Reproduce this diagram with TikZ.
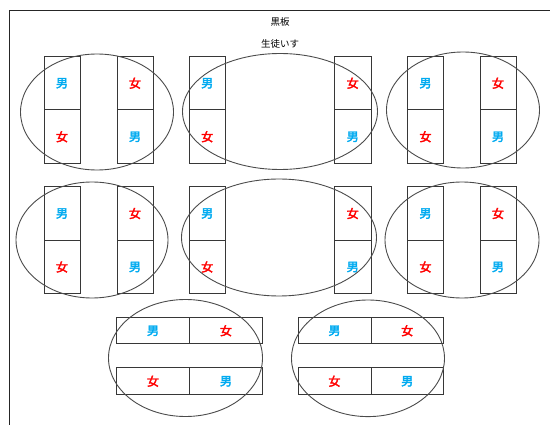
\documentclass[tikz,border=0pt]{standalone}
\usepackage{fontspec}
\newfontfamily\cjk[AutoFakeBold=3]{Noto Sans CJK JP}
\usetikzlibrary{shapes.geometric}
\definecolor{boyc}{RGB}{0,170,240}
\definecolor{girlc}{RGB}{255,0,0}
\definecolor{linec}{RGB}{55,55,55}
\newcommand{\boytext}{男}
\newcommand{\girltext}{女}
\newcommand{\lbl}[1]{\csname #1text\endcsname}
\begin{document}
\begin{tikzpicture}[x=1pt,y=-1pt,
  cell/.style={draw=linec,line width=1pt,inner sep=0pt,font=\cjk\fontsize{12}{12}\selectfont\bfseries},
  boy/.style={cell,text=boyc},
  girl/.style={cell,text=girlc},
  grp/.style={draw=linec!90,line width=0.9pt,ellipse,inner sep=0pt},
  ttl/.style={font=\cjk\fontsize{9.5}{10}\selectfont,inner sep=0pt}]
\useasboundingbox (0,0) rectangle (550,425);
% frame
\coordinate (fbl) at (9.5,425);
\coordinate (ftr) at (550,10.5);
\draw[line width=1.5pt,black!85] (fbl) |- (ftr);
% titles
\node[ttl] (board) at (280,22) {黒板};
\node[ttl] (chair) at (280,44) {生徒いす};
% vertical desks (rows 1 and 2)
\foreach \nm/\xl/\xr/\tp/\md/\bt/\ta/\tb in {
  a1/43.5/79.5/56/109.5/163/boy/girl,
  b1/116.5/152.5/56/109.5/163/girl/boy,
  c1/188.5/225/56/109.5/163/boy/girl,
  d1/334/370.5/56/109.5/163/girl/boy,
  e1/407/443/56/109.5/163/boy/girl,
  f1/479.5/515.5/56/109.5/163/girl/boy,
  a2/43.5/79.5/186/240/293/boy/girl,
  b2/116.5/152.5/186/240/293/girl/boy,
  c2/188.5/225/186/240/293/boy/girl,
  d2/334/370.5/186/240/293/girl/boy,
  e2/407/443/186/240/293/boy/girl,
  f2/479.5/515.5/186/240/293/girl/boy}{
  \pgfmathsetmacro{\w}{\xr-\xl}
  \pgfmathsetmacro{\ha}{\md-\tp}
  \pgfmathsetmacro{\hb}{\bt-\md}
  \node[\ta,minimum width=\w pt,minimum height=\ha pt,anchor=north west] (\nm u) at (\xl,\tp) {\lbl{\ta}};
  \node[\tb,minimum width=\w pt,minimum height=\hb pt,anchor=north west] (\nm l) at (\xl,\md) {\lbl{\tb}};
}
% row 3 horizontal desks
\foreach \nm/\xl/\xm/\xr/\tp/\bt/\ta/\tb in {
  g1/116/189/262/317/343.5/boy/girl,
  g2/116/189/262/367.5/394/girl/boy,
  h1/297.5/370.5/443/317/343.5/boy/girl,
  h2/297.5/370.5/443/367.5/394/girl/boy}{
  \pgfmathsetmacro{\wa}{\xm-\xl}
  \pgfmathsetmacro{\wb}{\xr-\xm}
  \pgfmathsetmacro{\h}{\bt-\tp}
  \node[\ta,minimum width=\wa pt,minimum height=\h pt,anchor=north west] (\nm l) at (\xl,\tp) {\lbl{\ta}};
  \node[\tb,minimum width=\wb pt,minimum height=\h pt,anchor=north west] (\nm r) at (\xm,\tp) {\lbl{\tb}};
}
% group ellipses
\foreach \nm/\cx/\cy/\rx/\ry in {
  ea/97/112/76.5/58, eb/280/111.5/97.5/58, ec/463/110/76.5/58,
  ed/92/240/76/58, ee/279/237.5/97.5/58.5, ef/462/240/77/58,
  eg/185.5/358/77/58.5, eh/368/358.3/76.5/58.3}{
  \node[grp,minimum width=2*\rx pt,minimum height=2*\ry pt] (\nm) at (\cx,\cy) {};
}
\end{tikzpicture}
\end{document}
